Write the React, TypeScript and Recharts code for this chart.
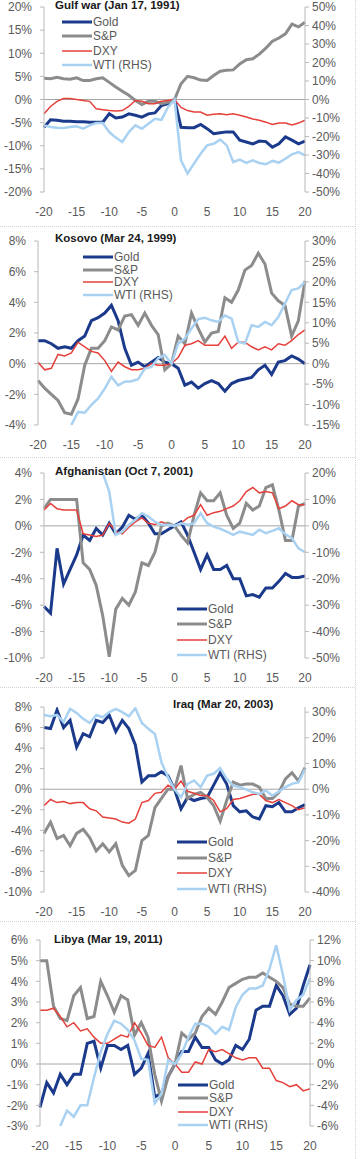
import { Line, LineChart, ReferenceLine, XAxis, YAxis } from "recharts";

// trading days around the event
const days = [
  -20, -19, -18, -17, -16, -15, -14, -13, -12, -11, -10, -9, -8, -7, -6, -5, -4, -3, -2, -1, 0,
  1, 2, 3, 4, 5, 6, 7, 8, 9, 10, 11, 12, 13, 14, 15, 16, 17, 18, 19, 20,
];
const xTicks = [-20, -15, -10, -5, 0, 5, 10, 15, 20];

// Gulf war (Jan 17, 1991)
const gulfGold = [-6.0, -4.4, -4.5, -4.7, -4.7, -4.8, -4.8, -4.9, -4.9, -4.9, -3.1, -4.0, -3.8, -3.1, -3.4, -3.8, -3.1, -2.9, -1.3, -0.9, 0, -6.0, -6.1, -6.1, -5.4, -6.3, -7.4, -7.2, -7.0, -7.0, -8.8, -9.2, -9.6, -9.0, -9.1, -10.3, -9.6, -8.1, -8.8, -9.6, -9.0];
const gulfSp = [4.6, 4.5, 4.8, 4.5, 4.4, 4.7, 4.1, 4.1, 4.5, 4.7, 3.7, 2.7, 1.8, 0.9, -0.2, -1.1, -0.4, -0.4, -0.9, -0.6, 0, 3.4, 5.0, 4.7, 4.2, 4.1, 5.2, 6.1, 6.3, 6.4, 7.7, 8.6, 8.8, 9.8, 11.1, 12.6, 13.3, 14.2, 16.3, 15.7, 16.7];
const gulfDxy = [-3.1, -1.5, -0.4, 0.2, 0.2, 0, -0.2, -0.4, -2.0, -2.2, -2.4, -2.5, -2.4, -1.5, -0.2, -0.4, -0.9, -0.9, -0.4, -0.2, 0, -1.7, -2.4, -2.7, -2.7, -3.4, -3.2, -3.1, -3.3, -3.1, -3.4, -3.8, -4.2, -4.5, -4.9, -5.4, -5.1, -5.1, -5.5, -5.1, -4.5];
const gulfWti = [-14.0, -14.9, -15.3, -15.4, -14.9, -14.5, -15.8, -14.0, -12.7, -12.7, -17.6, -20.6, -23.0, -17.6, -14.0, -15.8, -13.1, -10.4, -11.0, -4.1, 0, -32.9, -40.0, -34.6, -29.3, -24.8, -23.9, -21.7, -24.8, -33.8, -32.5, -34.3, -32.9, -34.3, -35.0, -33.2, -34.1, -32.0, -29.6, -28.4, -30.2];

// Kosovo (Mar 24, 1999)
const kosovoGold = [1.5, 1.5, 1.3, 1.0, 1.1, 1.0, 1.5, 1.8, 2.8, 3.0, 3.3, 3.8, 2.8, 1.0, -0.1, 0.1, -0.2, 0.1, 0.4, 0.1, 0, -0.3, -1.4, -1.2, -1.6, -1.3, -1.1, -1.3, -1.8, -1.3, -1.1, -1.0, -0.9, -0.4, -0.1, -0.7, 0.1, 0.2, 0.5, 0.3, 0.0];
const kosovoSp = [-1.1, -1.6, -2.0, -2.4, -3.2, -3.3, -2.3, -0.1, 1.0, 1.0, 1.5, 2.4, 2.2, 3.1, 3.2, 2.5, 3.3, 2.5, 1.9, -0.4, 0, 1.8, 1.3, 3.3, 2.3, 1.4, 2.0, 2.1, 4.3, 4.0, 4.8, 6.1, 6.4, 7.2, 6.5, 4.6, 4.1, 3.8, 1.8, 2.8, 5.4];
const kosovoDxy = [0.1, -0.4, -0.3, 0.6, 0.5, 0.7, 1.4, 1.1, 0.8, 0.7, 0.2, -0.5, 0.1, -0.2, -0.4, -0.4, -0.3, 0.0, -0.1, -0.1, 0, 0.4, 1.2, 1.3, 1.5, 1.2, 1.2, 1.2, 1.8, 1.0, 1.4, 1.4, 1.1, 0.9, 1.1, 0.9, 1.3, 1.2, 1.5, 1.9, 2.2];
const kosovoWti = [null, null, null, null, null, -15.0, -11.8, -12.0, -10.1, -8.5, -6.1, -3.2, -5.3, -4.4, -4.3, -3.8, -1.2, -0.8, 1.3, 2.1, 0, 4.9, 6.1, 8.6, 10.9, 11.2, 10.6, 10.2, 11.8, 11.0, 5.3, 4.9, 9.4, 9.0, 10.2, 9.4, 11.4, 14.7, 18.0, 18.4, 20.0];

// Afghanistan (Oct 7, 2001)
const afghanGold = [-6.1, -6.6, -1.7, -4.4, -3.3, -2.2, -0.7, -1.1, -0.2, -0.7, 0.2, -0.6, -0.1, 0.8, 0.5, 0.8, 0.2, -0.6, -0.6, -0.3, 0, 0.3, -0.7, -2.0, -3.3, -2.2, -3.3, -3.3, -3.0, -4.0, -4.0, -5.3, -5.2, -5.4, -4.7, -4.7, -4.2, -3.6, -3.9, -3.9, -3.8];
const afghanSp = [1.3, 2.0, 2.0, 2.0, 2.0, 2.0, -2.8, -3.3, -4.5, -6.8, -9.9, -6.3, -5.5, -6.0, -5.0, -2.8, -3.0, -2.0, 0.0, 0.2, 0, -0.7, -1.3, 0.8, 2.5, 1.9, 1.9, 2.5, 0.8, -0.2, 0.2, 1.7, 1.2, 1.5, 2.9, 3.1, 1.2, -1.1, -1.1, 1.5, 1.7];
const afghanDxy = [1.2, 1.7, 1.3, 1.2, 1.2, 1.2, -0.6, -0.7, -0.8, -0.7, 0.2, -0.4, -0.6, -0.1, 0.3, 0.6, 0.2, 0.1, 0.3, 0.1, 0, 0.2, 0.6, 0.8, 1.6, 0.8, 1.0, 1.1, 1.3, 1.5, 1.9, 2.6, 2.9, 2.5, 2.6, 2.5, 1.3, 1.5, 1.9, 1.6, 1.6];
const afghanWti = [null, null, null, null, null, null, null, null, null, 20.0, 13.0, -3.4, -2.2, 0.4, 2.3, 4.8, 3.5, 1.6, 0.4, 0.4, 0, 1.0, 0.4, 1.0, 4.8, 1.0, -0.3, -1.1, -2.2, -3.4, -2.2, -2.8, -3.4, -1.5, -2.8, -1.9, -0.9, -3.2, -4.7, -8.5, -10.0];

// Iraq (Mar 20, 2003)
const iraqGold = [6.0, 5.9, 7.7, 6.0, 6.7, 4.1, 5.4, 5.1, 6.7, 6.5, 7.2, 5.6, 6.7, 5.9, 4.3, 0.7, 1.3, 1.3, 1.7, 1.3, 0, -1.9, -0.8, -1.1, -0.9, -0.8, 0.4, 1.6, 0.5, -1.6, -2.2, -2.1, -2.7, -2.9, -1.6, -1.7, -1.3, -2.2, -2.2, -1.8, -1.5];
const iraqSp = [-4.3, -3.2, -4.8, -4.5, -5.5, -4.3, -3.9, -4.7, -6.0, -5.3, -6.1, -5.3, -7.4, -8.4, -7.9, -5.0, -4.5, -1.8, -0.9, 0.0, 0, 2.3, -0.9, -0.5, -0.3, -0.8, -1.6, -3.1, -1.1, 0.7, 0.4, 0.5, 0.5, 0.2, -0.9, -0.9, -0.3, 1.0, 1.6, 0.8, 2.1];
const iraqDxy = [-1.6, -1.0, -1.3, -1.2, -1.4, -1.3, -1.3, -1.9, -2.1, -2.7, -2.8, -2.9, -3.2, -3.3, -2.9, -1.3, -1.1, -0.4, -0.3, 0.4, 0, 0.8, -0.2, -0.4, -0.6, -0.6, -1.1, -2.2, -1.9, -1.0, -0.9, -0.7, -0.5, -0.5, -1.1, -1.3, -1.0, -1.3, -1.6, -2.0, -1.8];
const iraqWti = [28.9, 28.4, 28.9, 26.1, 31.3, 29.7, 27.4, 25.8, 28.9, 28.0, 30.0, 31.3, 30.0, 28.4, 31.5, 25.8, 23.5, 21.5, 10.5, 4.7, 0, -3.1, 2.1, 3.4, 0.8, 5.3, 6.0, 8.2, 4.0, 1.4, 0.8, -0.1, -1.2, -1.8, -0.5, -2.5, -0.9, 0.8, 2.1, 2.7, 7.9];

// Libya (Mar 19, 2011)
const libyaGold = [-2.1, -0.9, -1.4, -0.5, -1.0, -0.5, -0.5, 1.0, 1.1, -0.2, 0.9, 0.9, 0.7, 0.9, -0.5, -0.2, 0.5, -1.6, -1.4, -0.6, 0, 0.6, 0.6, 1.3, 0.8, 0.8, 0.2, 0.0, 0.2, 0.9, 0.7, 1.2, 2.6, 2.8, 2.8, 3.8, 3.3, 2.4, 2.7, 3.8, 4.8];
const libyaSp = [5.0, 5.0, 2.8, 2.2, 2.1, 3.3, 3.7, 2.2, 2.3, 4.0, 3.3, 2.5, 3.3, 3.1, 1.4, 2.0, 1.3, -0.5, -1.8, -0.6, 0, 1.5, 1.2, 1.5, 2.3, 2.7, 2.4, 3.0, 3.7, 3.9, 4.1, 4.2, 4.2, 4.4, 4.2, 4.0, 3.7, 2.9, 2.8, 2.8, 3.2];
const libyaDxy = [2.6, 2.6, 2.7, 2.3, 1.8, 2.0, 1.6, 1.7, 1.3, 1.0, 1.0, 1.2, 1.4, 1.3, 2.0, 1.5, 0.9, 0.8, 1.3, 0.3, 0, -0.4, -0.4, 0.1, 0.0, 0.7, 0.6, 0.7, 0.5, 0.3, 0.2, 0.3, 0.3, -0.2, -0.2, -0.8, -0.9, -1.1, -1.0, -1.3, -1.2];
const libyaWti = [null, null, null, -6.0, -4.5, -5.1, -4.0, -4.0, -1.3, 1.2, 2.9, 4.2, 3.9, 3.3, 2.3, 0.5, 0.4, -3.8, -2.9, 0.4, 0, 1.0, 2.6, 3.9, 3.9, 3.6, 2.9, 3.6, 3.3, 5.5, 6.7, 7.3, 7.3, 7.6, 9.2, 11.5, 8.6, 5.2, 6.2, 6.7, 8.3];

const FONT = "'Liberation Sans', Arial, sans-serif";
const AXIS = "#b8b8b8";
const TEXT = "#595959";

const series = [
  { key: "gold", name: "Gold", color: "#1b3a8c", width: 3, axis: "left" },
  { key: "sp", name: "S&P", color: "#8c8c8c", width: 3, axis: "left" },
  { key: "dxy", name: "DXY", color: "#e5403a", width: 1.5, axis: "left" },
  { key: "wti", name: "WTI (RHS)", color: "#a9d1f2", width: 2.5, axis: "right" },
];

const panels = [
  {
    title: "Gulf war (Jan 17, 1991)",
    values: { gold: gulfGold, sp: gulfSp, dxy: gulfDxy, wti: gulfWti },
    left: [-20, 20], leftTicks: [-20, -15, -10, -5, 0, 5, 10, 15, 20],
    right: [-50, 50], rightTicks: [-50, -40, -30, -20, -10, 0, 10, 20, 30, 40, 50],
    top: 0, height: 226, plotTop: 7, bottom: 34, leftW: 44, rightW: 56,
    titleX: 55, titleY: 5, legendX: 62, legendY: 22, legendGap: 14.4,
  },
  {
    title: "Kosovo (Mar 24, 1999)",
    values: { gold: kosovoGold, sp: kosovoSp, dxy: kosovoDxy, wti: kosovoWti },
    left: [-4, 8], leftTicks: [-4, -2, 0, 2, 4, 6, 8],
    right: [-15, 30], rightTicks: [-15, -10, -5, 0, 5, 10, 15, 20, 25, 30],
    top: 226, height: 231, plotTop: 15, bottom: 32, leftW: 38, rightW: 56,
    titleX: 55, titleY: 12, legendX: 83, legendY: 31, legendGap: 12.7,
  },
  {
    title: "Afghanistan (Oct 7, 2001)",
    values: { gold: afghanGold, sp: afghanSp, dxy: afghanDxy, wti: afghanWti },
    left: [-10, 4], leftTicks: [-10, -8, -6, -4, -2, 0, 2, 4],
    right: [-50, 20], rightTicks: [-50, -40, -30, -20, -10, 0, 10, 20],
    top: 457, height: 230, plotTop: 16, bottom: 29, leftW: 44, rightW: 56,
    titleX: 55, titleY: 14, legendX: 177, legendY: 152, legendGap: 15.3,
  },
  {
    title: "Iraq (Mar 20, 2003)",
    values: { gold: iraqGold, sp: iraqSp, dxy: iraqDxy, wti: iraqWti },
    left: [-10, 8], leftTicks: [-10, -8, -6, -4, -2, 0, 2, 4, 6, 8],
    right: [-40, 32], rightTicks: [-40, -30, -20, -10, 0, 10, 20, 30],
    top: 687, height: 234, plotTop: 20, bottom: 29, leftW: 44, rightW: 56,
    titleX: 173, titleY: 17, legendX: 177, legendY: 155, legendGap: 15.6,
  },
  {
    title: "Libya (Mar 19, 2011)",
    values: { gold: libyaGold, sp: libyaSp, dxy: libyaDxy, wti: libyaWti },
    left: [-3, 6], leftTicks: [-3, -2, -1, 0, 1, 2, 3, 4, 5, 6],
    right: [-6, 12], rightTicks: [-6, -4, -2, 0, 2, 4, 6, 8, 10, 12],
    top: 921, height: 238, plotTop: 19, bottom: 33, leftW: 40, rightW: 51,
    titleX: 54, titleY: 18, legendX: 178, legendY: 164, legendGap: 13.3,
  },
];

type PanelCfg = (typeof panels)[number];

const pct = (v: number) => `${v}%`;
const tickStyle = { fontSize: 12, fill: TEXT, fontFamily: FONT };

function Panel({ cfg }: { cfg: PanelCfg }) {
  const data = days.map((day, i) => ({
    day,
    gold: cfg.values.gold[i],
    sp: cfg.values.sp[i],
    dxy: cfg.values.dxy[i],
    wti: cfg.values.wti[i],
  }));

  return (
    <div style={{ position: "absolute", left: 0, top: cfg.top, width: 361, height: cfg.height }}>
      <LineChart
        width={361}
        height={cfg.height}
        data={data}
        margin={{ top: cfg.plotTop, right: 0, bottom: cfg.bottom - 20, left: 0 }}
        style={{ fontFamily: FONT }}
      >
        <XAxis
          dataKey="day"
          type="number"
          domain={[-20, 20]}
          ticks={xTicks}
          interval={0}
          axisLine={false}
          tickLine={false}
          tickMargin={9}
          height={20}
          tick={tickStyle}
        />
        <YAxis
          yAxisId="left"
          width={cfg.leftW}
          domain={cfg.left}
          ticks={cfg.leftTicks}
          interval={0}
          allowDataOverflow
          tickFormatter={pct}
          axisLine={{ stroke: AXIS }}
          tickLine={{ stroke: AXIS }}
          tickSize={4}
          tickMargin={8}
          tick={tickStyle}
        />
        <YAxis
          yAxisId="right"
          orientation="right"
          width={cfg.rightW}
          domain={cfg.right}
          ticks={cfg.rightTicks}
          interval={0}
          allowDataOverflow
          tickFormatter={pct}
          axisLine={{ stroke: AXIS }}
          tickLine={{ stroke: AXIS }}
          tickSize={4}
          tickMargin={3}
          tick={tickStyle}
        />
        <ReferenceLine yAxisId="left" y={0} stroke="#a6a6a6" strokeWidth={1} />
        {series.map((s) => (
          <Line
            key={s.key}
            yAxisId={s.axis}
            type="linear"
            dataKey={s.key}
            stroke={s.color}
            strokeWidth={s.width}
            dot={false}
            activeDot={false}
            isAnimationActive={false}
          />
        ))}
      </LineChart>
      <div
        style={{
          position: "absolute",
          left: cfg.titleX,
          top: cfg.titleY - 7,
          fontFamily: FONT,
          fontWeight: "bold",
          fontSize: 11.5,
          lineHeight: "14px",
          color: "#1a1a1a",
          whiteSpace: "nowrap",
        }}
      >
        {cfg.title}
      </div>
      {series.map((s, i) => (
        <div
          key={s.key}
          style={{
            position: "absolute",
            left: cfg.legendX,
            top: cfg.legendY + i * cfg.legendGap - 7,
            height: 14,
            display: "flex",
            alignItems: "center",
            fontFamily: FONT,
            fontSize: 12,
            color: TEXT,
            whiteSpace: "nowrap",
          }}
        >
          <svg width={30} height={14} style={{ marginRight: 1 }}>
            <line x1={0} y1={7} x2={30} y2={7} stroke={s.color} strokeWidth={s.width} />
          </svg>
          {s.name}
        </div>
      ))}
    </div>
  );
}

export default function App() {
  return (
    <div style={{ position: "absolute", left: 0, top: 0, width: 361, height: 1159, background: "#fff", overflow: "hidden" }}>
      {panels.map((p) => (
        <Panel key={p.title} cfg={p} />
      ))}
      {[226, 457, 687, 921].map((y) => (
        <div key={y} style={{ position: "absolute", left: 0, top: y, width: 355, borderTop: "1px dotted #d4d4d4" }} />
      ))}
      <div style={{ position: "absolute", left: 355, top: 0, height: 1159, borderLeft: "1px dotted #d4d4d4" }} />
    </div>
  );
}
